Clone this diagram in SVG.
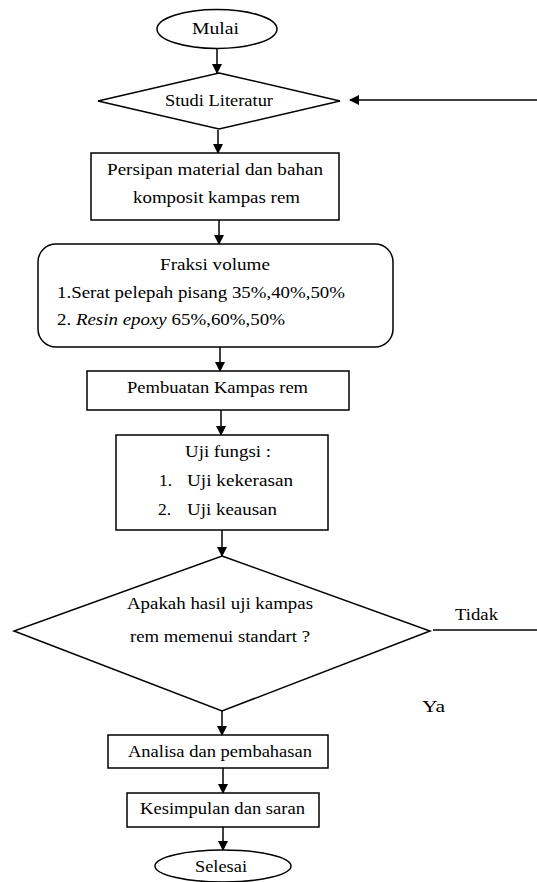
<svg xmlns="http://www.w3.org/2000/svg" width="537" height="882" viewBox="0 0 537 882">
<style>
.s{fill:#fff;stroke:#000;stroke-width:1.5}
.t{font-family:'Liberation Serif', 'DejaVu Serif', serif;font-size:17.5px;fill:#000}
.c{fill:none;stroke:#000;stroke-width:1.5}
</style>
<defs>
<marker id="ah" markerWidth="10" markerHeight="10" refX="9" refY="5" orient="auto" markerUnits="userSpaceOnUse">
<path d="M0,0 L10,5 L0,10 Z" fill="#000"/>
</marker>
</defs>
<rect width="537" height="882" fill="#fff"/>
<g id="connectors">
<line class="c" x1="217" y1="48" x2="217" y2="73" marker-end="url(#ah)"/>
<line class="c" x1="537" y1="100" x2="350" y2="100" marker-end="url(#ah)"/>
<line class="c" x1="218" y1="130" x2="218" y2="153" marker-end="url(#ah)"/>
<line class="c" x1="219" y1="220" x2="219" y2="244" marker-end="url(#ah)"/>
<line class="c" x1="220" y1="347" x2="220" y2="371" marker-end="url(#ah)"/>
<line class="c" x1="221" y1="410" x2="221" y2="435" marker-end="url(#ah)"/>
<line class="c" x1="222" y1="530" x2="222" y2="556" marker-end="url(#ah)"/>
<line class="c" x1="433" y1="630" x2="537" y2="630"/>
<line class="c" x1="222" y1="711" x2="222" y2="735" marker-end="url(#ah)"/>
<line class="c" x1="223" y1="768" x2="223" y2="793" marker-end="url(#ah)"/>
<line class="c" x1="223" y1="827" x2="223" y2="850" marker-end="url(#ah)"/>
<text class="t" x="455" y="620" textLength="43" lengthAdjust="spacingAndGlyphs">Tidak</text>
<text class="t" x="422" y="712" textLength="23" lengthAdjust="spacingAndGlyphs">Ya</text>
</g>
<g id="mulai">
<ellipse class="s" cx="217" cy="29" rx="60" ry="19.5"/>
<text class="t" x="192" y="34" textLength="47" lengthAdjust="spacingAndGlyphs">Mulai</text>
</g>
<g id="studi">
<polygon class="s" points="219,73 340,101 219,129 98,101"/>
<text class="t" x="165" y="106" textLength="108" lengthAdjust="spacingAndGlyphs">Studi Literatur</text>
</g>
<g id="persiapan">
<rect class="s" x="91" y="153" width="248" height="67"/>
<text class="t" x="107" y="175" textLength="216" lengthAdjust="spacingAndGlyphs">Persipan material dan  bahan</text>
<text class="t" x="133" y="203" textLength="167" lengthAdjust="spacingAndGlyphs">komposit kampas rem</text>
</g>
<g id="fraksi">
<rect class="s" x="38" y="244" width="355" height="103" rx="18"/>
<text class="t" x="160" y="270" textLength="110" lengthAdjust="spacingAndGlyphs">Fraksi volume</text>
<text class="t" x="57" y="298" textLength="288" lengthAdjust="spacingAndGlyphs">1.Serat pelepah pisang 35%,40%,50%</text>
<text class="t" x="57" y="325" textLength="228" lengthAdjust="spacingAndGlyphs">2. <tspan font-style="italic">Resin epoxy</tspan> 65%,60%,50%</text>
</g>
<g id="pembuatan">
<rect class="s" x="87" y="371" width="262" height="39"/>
<text class="t" x="127" y="393" textLength="181" lengthAdjust="spacingAndGlyphs">Pembuatan Kampas rem</text>
</g>
<g id="uji">
<rect class="s" x="116" y="435" width="212" height="95"/>
<text class="t" x="185" y="457" textLength="86" lengthAdjust="spacingAndGlyphs">Uji fungsi :</text>
<text class="t" x="159" y="486">1.</text>
<text class="t" x="187" y="486" textLength="106" lengthAdjust="spacingAndGlyphs">Uji kekerasan</text>
<text class="t" x="158" y="515">2.</text>
<text class="t" x="187" y="515" textLength="90" lengthAdjust="spacingAndGlyphs">Uji keausan</text>
</g>
<g id="keputusan">
<polygon class="s" points="222,556 430,631 222,711 14,631"/>
<text class="t" x="127" y="609" textLength="186" lengthAdjust="spacingAndGlyphs">Apakah hasil uji kampas</text>
<text class="t" x="130" y="642" textLength="180" lengthAdjust="spacingAndGlyphs">rem memenui standart ?</text>
</g>
<g id="analisa">
<rect class="s" x="108" y="735" width="220" height="33"/>
<text class="t" x="128" y="757" textLength="184" lengthAdjust="spacingAndGlyphs">Analisa dan pembahasan</text>
</g>
<g id="kesimpulan">
<rect class="s" x="127" y="793" width="192" height="34"/>
<text class="t" x="140" y="814" textLength="165" lengthAdjust="spacingAndGlyphs">Kesimpulan dan saran</text>
</g>
<g id="selesai">
<ellipse class="s" cx="223" cy="866" rx="68" ry="16"/>
<text class="t" x="195" y="872" textLength="52" lengthAdjust="spacingAndGlyphs">Selesai</text>
</g>
</svg>
